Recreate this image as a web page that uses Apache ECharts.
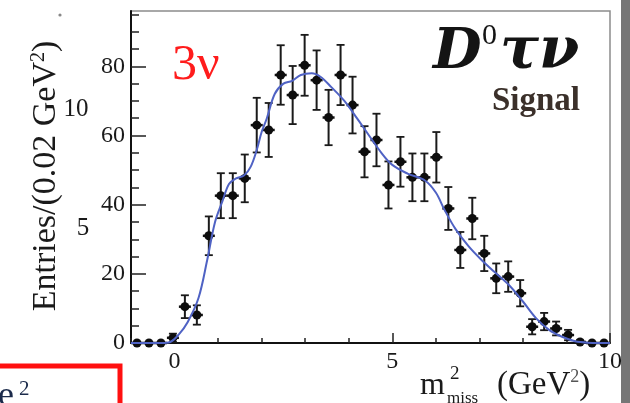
<!DOCTYPE html>
<html>
<head>
<meta charset="utf-8">
<script src="https://cdn.jsdelivr.net/npm/echarts@6/dist/echarts.min.js"></script>
<style>
  html, body { margin: 0; padding: 0; background: #ffffff; }
  #chart { width: 630px; height: 403px; }
</style>
</head>
<body>
<div id="chart"></div>
<script>
// Missing-mass-squared spectrum, D0 tau nu signal sample, 40 bins over [-1, 10]
const binCenters = [-0.8625, -0.5875, -0.3125, -0.0375, 0.2375, 0.5125, 0.7875, 1.0625, 1.3375, 1.6125,
                    1.8875, 2.1625, 2.4375, 2.7125, 2.9875, 3.2625, 3.5375, 3.8125, 4.0875, 4.3625,
                    4.6375, 4.9125, 5.1875, 5.4625, 5.7375, 6.0125, 6.2875, 6.5625, 6.8375, 7.1125,
                    7.3875, 7.6625, 7.9375, 8.2125, 8.4875, 8.7625, 9.0375, 9.3125, 9.5875, 9.8625];
const entries = [0, 0, 0, 1.5, 10.5, 8.1, 31, 42.6, 42.6, 47.6,
                 63, 61.6, 77.5, 71.7, 80.3, 76, 65.2, 77.5, 68.8, 55.3,
                 58.7, 45.7, 52.4, 47.9, 47.9, 53.7, 38.9, 26.9, 36, 25.9,
                 18.7, 19.2, 14.4, 4.7, 6.2, 4.2, 2.3, 0.3, 0, 0];
const errors = [0, 0, 0, 1.2, 3.3, 2.8, 5.6, 6.5, 6.5, 6.9,
                7.9, 7.8, 8.6, 8.4, 8.8, 8.6, 8.0, 8.7, 8.2, 7.4,
                7.6, 6.8, 7.2, 6.9, 6.9, 7.3, 6.2, 5.2, 6.0, 5.1,
                4.3, 4.4, 3.8, 2.2, 2.5, 2.0, 1.5, 0.5, 0, 0];

// Fitted signal shape
const fitX = [-1, -0.5, -0.3, -0.1, 0.1, 0.3, 0.55, 0.75, 0.93, 1.1, 1.25, 1.4, 1.6, 1.75, 1.88,
              2.0, 2.12, 2.3, 2.5, 2.7, 2.9, 3.15, 3.35, 3.6, 3.9, 4.2, 4.45, 4.75, 5.0, 5.35,
              5.75, 6.0, 6.2, 6.45, 6.75, 7.05, 7.35, 7.7, 8.0, 8.3, 8.6, 8.9, 9.2, 9.5, 10];
const fitY = [0, 0, 0, 0.3, 2.5, 6, 13, 24, 35, 41, 46, 47.5, 48.5, 51, 55.5,
              61, 65, 72, 75, 75.8, 77.5, 78, 77, 74, 70, 64.8, 60.3, 55, 51.5, 49,
              47, 43.5, 38.5, 33, 28, 24, 20.5, 16.5, 12, 7.2, 3.8, 1.8, 0.5, 0.1, 0];

// Axis ticks
const xLabelValues = [0, 5, 10];
const yMajorValues = [0, 20, 40, 60, 80];
const yMinorValues = [0, 5, 10, 15, 20, 25, 30, 35, 40, 45, 50, 55, 60, 65, 70, 75, 80, 85, 90, 95];

const serif = '"Liberation Serif", "DejaVu Serif", serif';
const mathSerif = '"DejaVu Serif", "Liberation Serif", serif';
const chart = echarts.init(document.getElementById('chart'), null, { renderer: 'canvas' });

const points = binCenters.map((x, i) => [x, entries[i], errors[i]]);
const fitLine = fitX.map((x, i) => [x, fitY[i]]);

chart.setOption({
  animation: false,
  backgroundColor: '#ffffff',
  grid: {
    left: 131, right: 20, top: 11, bottom: 60,
    show: true, borderColor: '#8c8c8c', borderWidth: 1.5, backgroundColor: 'transparent'
  },
  xAxis: [
    {
      type: 'value', min: -1, max: 10, interval: 1, position: 'bottom',
      axisLine: { show: true, onZero: false, lineStyle: { color: '#111', width: 2 } },
      axisTick: { show: true, inside: true, length: 5, lineStyle: { color: '#222', width: 1.5 } },
      axisLabel: {
        customValues: xLabelValues, showMaxLabel: true, showMinLabel: true,
        fontFamily: serif, fontSize: 24, color: '#1a1a1a', margin: 7
      },
      splitLine: { show: false }
    },
    {
      type: 'value', min: -1, max: 10, interval: 1, position: 'bottom',
      axisLine: { show: false, onZero: false },
      axisTick: { show: true, inside: true, length: 10, customValues: xLabelValues, lineStyle: { color: '#222', width: 1.5 } },
      axisLabel: { show: false },
      splitLine: { show: false }
    }
  ],
  yAxis: [
    {
      type: 'value', min: 0, max: 96, position: 'left',
      axisLine: { show: true, onZero: false, lineStyle: { color: '#111', width: 2 } },
      axisTick: { show: true, inside: true, length: 8, customValues: yMinorValues, lineStyle: { color: '#222', width: 1.5 } },
      axisLabel: { show: false },
      splitLine: { show: false }
    },
    {
      type: 'value', min: 0, max: 96, position: 'left',
      axisLine: { show: false, onZero: false },
      axisTick: { show: true, inside: true, length: 15, customValues: yMajorValues, lineStyle: { color: '#222', width: 1.5 } },
      axisLabel: {
        customValues: yMajorValues, fontFamily: serif, fontSize: 24, color: '#1a1a1a', margin: 6
      },
      splitLine: { show: false }
    }
  ],
  series: [
    {
      type: 'custom',
      xAxisIndex: 0, yAxisIndex: 0,
      data: points,
      z: 3,
      renderItem: function (params, api) {
        const x = api.value(0), y = api.value(1), e = api.value(2);
        const c = api.coord([x, y]);
        const children = [];
        if (e > 0) {
          const top = api.coord([x, y + e]);
          const bot = api.coord([x, Math.max(0, y - e)]);
          children.push({ type: 'line', shape: { x1: c[0], y1: top[1], x2: c[0], y2: bot[1] }, style: { stroke: '#1a1a1a', lineWidth: 2 } });
          children.push({ type: 'line', shape: { x1: c[0] - 4, y1: top[1], x2: c[0] + 4, y2: top[1] }, style: { stroke: '#1a1a1a', lineWidth: 1.8 } });
          if (y - e > 0) {
            children.push({ type: 'line', shape: { x1: c[0] - 4, y1: bot[1], x2: c[0] + 4, y2: bot[1] }, style: { stroke: '#1a1a1a', lineWidth: 1.8 } });
          }
        }
        children.push({ type: 'line', shape: { x1: c[0] - 6, y1: c[1], x2: c[0] + 6, y2: c[1] }, style: { stroke: '#111', lineWidth: 2.5 } });
        children.push({ type: 'circle', shape: { cx: c[0], cy: c[1], r: 4.5 }, style: { fill: '#0d0d0d' } });
        return { type: 'group', children: children };
      }
    },
    {
      type: 'line',
      xAxisIndex: 0, yAxisIndex: 0,
      data: fitLine,
      smooth: 0.35,
      symbol: 'none',
      z: 4,
      lineStyle: { color: '#4f62c4', width: 2 }
    }
  ],
  graphic: [
    // vertical axis title
    {
      type: 'text', x: 46, y: 176, rotation: Math.PI / 2,
      style: {
        text: 'Entries/(0.02 GeV{s|2})', fontFamily: serif, fontSize: 34, fill: '#1a1a1a',
        align: 'center', verticalAlign: 'middle',
        rich: { s: { fontFamily: serif, fontSize: 20, fill: '#1a1a1a', verticalAlign: 'top', padding: [0, 0, 14, 0] } }
      }
    },
    { type: 'text', x: 76, y: 109, style: { text: '10', fontFamily: serif, fontSize: 25, fill: '#1a1a1a', align: 'center', verticalAlign: 'middle' } },
    { type: 'text', x: 83, y: 228, style: { text: '5', fontFamily: serif, fontSize: 25, fill: '#1a1a1a', align: 'center', verticalAlign: 'middle' } },
    { type: 'circle', shape: { cx: 60, cy: 15, r: 1.6 }, style: { fill: '#888' } },
    // horizontal axis title
    { type: 'text', x: 420, y: 386, style: { text: 'm', fontFamily: serif, fontSize: 32, fill: '#1a1a1a', align: 'left', verticalAlign: 'middle' } },
    { type: 'text', x: 450, y: 374, style: { text: '2', fontFamily: serif, fontSize: 19, fill: '#1a1a1a', align: 'left', verticalAlign: 'middle' } },
    { type: 'text', x: 447, y: 399, style: { text: 'miss', fontFamily: serif, fontSize: 17, fill: '#1a1a1a', align: 'left', verticalAlign: 'middle' } },
    { type: 'text', x: 497, y: 385, style: { text: '(GeV{s|2})', fontFamily: serif, fontSize: 33, fill: '#1a1a1a', align: 'left', verticalAlign: 'middle',
      rich: { s: { fontFamily: serif, fontSize: 18, fill: '#555', verticalAlign: 'top', padding: [0, 0, 12, 0] } } } },
    // labels inside the frame
    { type: 'text', x: 172, y: 66, style: { text: '3ν', fontFamily: serif, fontSize: 50, fill: '#ff1c1c', align: 'left', verticalAlign: 'middle' } },
    { type: 'text', x: 433, y: 53, style: { text: 'D', fontFamily: mathSerif, fontSize: 56, fontStyle: 'italic', fontWeight: 'bold', fill: '#141414', align: 'left', verticalAlign: 'middle' } },
    { type: 'text', x: 482, y: 36, style: { text: '0', fontFamily: serif, fontSize: 30, fill: '#141414', align: 'left', verticalAlign: 'middle' } },
    { type: 'text', x: 500, y: 53, style: { text: 'τν', fontFamily: mathSerif, fontSize: 58, fontStyle: 'italic', fontWeight: 'bold', fill: '#141414', align: 'left', verticalAlign: 'middle' } },
    { type: 'text', x: 536, y: 101, style: { text: 'Signal', fontFamily: serif, fontSize: 33, fontWeight: 'bold', fill: '#3b302a', align: 'center', verticalAlign: 'middle' } },
    // surrounding page elements
    { type: 'rect', shape: { x: -10, y: 366, width: 130, height: 60 }, style: { fill: 'none', stroke: '#ff1010', lineWidth: 5 } },
    { type: 'text', x: -2, y: 379, style: { text: 'e', fontFamily: serif, fontSize: 36, fill: '#1b2a4a', align: 'left', verticalAlign: 'top' } },
    { type: 'text', x: 19, y: 379, style: { text: '2', fontFamily: serif, fontSize: 21, fill: '#1b2a4a', align: 'left', verticalAlign: 'top' } },
    { type: 'rect', shape: { x: 621, y: 0, width: 9, height: 403 }, style: { fill: '#767676' } }
  ]
});
</script>
</body>
</html>
